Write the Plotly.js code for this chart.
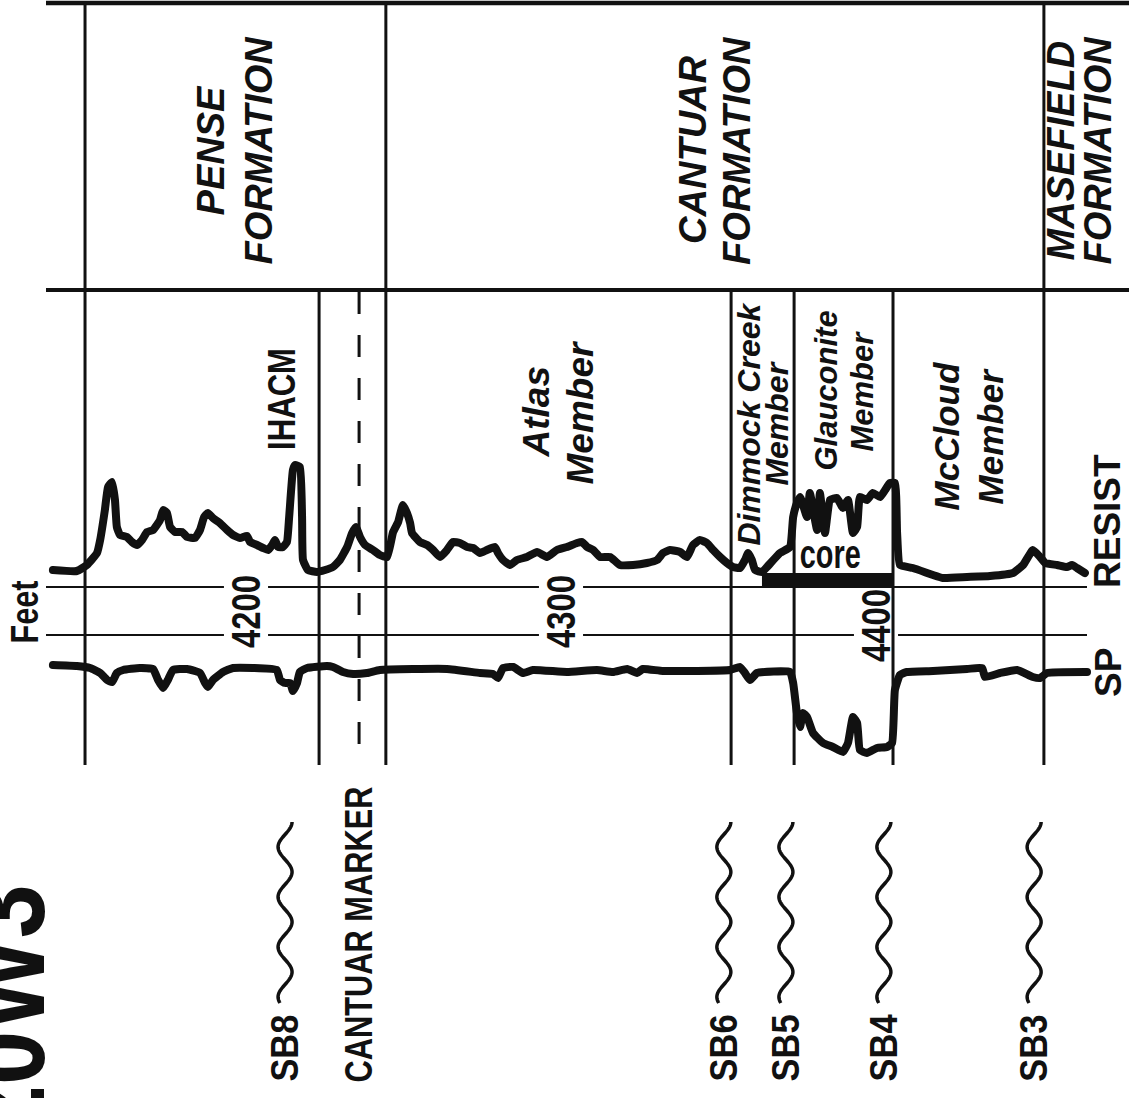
<!DOCTYPE html>
<html>
<head>
<meta charset="utf-8">
<script src="https://cdn.plot.ly/plotly-3.0.1.min.js"></script>
<style>html,body{margin:0;padding:0;background:#fff;}#chart{width:1129px;height:1098px;}</style>
</head>
<body>
<div id="chart"></div>
<script>
// ---------------- DATA ----------------
const depthTicks = [4200, 4300, 4400];                 // feet
const formationNames = ['PENSE', 'CANTUAR', 'MASEFIELD'];
const formationTops = [4148.9, 4244.4, 4453.3];
const memberNames = ['Atlas', 'Dimmock Creek', 'Glauconite', 'McCloud'];
const memberTops = [4244.4, 4354.0, 4374.0, 4405.4];
const memberBase = 4453.3;
const ihacmLabel = 'IHACM';
const ihacmBase = 4223.2;
const cantuarMarkerDepth = 4235.9;
const sbNames = ['SB8', 'SB6', 'SB5', 'SB4', 'SB3'];
const sbDepths = [4212.4, 4351.7, 4371.4, 4402.5, 4450.2];
const coreInterval = [4363.8, 4405.4];

// resistivity log: relative deflection
const resistDepth = [4138.7,4146.3,4149.5,4152.7,4153.7,4155.2,4156.2,4157.5,4158.4,4159.0,4160.0,4162.2,4163.8,4165.4,4167.0,4168.6,4170.5,4172.7,4173.7,4174.9,4175.9,4177.5,4179.7,4181.3,4183.8,4185.4,4186.7,4187.9,4189.5,4191.7,4194.0,4195.9,4198.1,4200.3,4201.3,4203.5,4205.4,4207.0,4208.3,4209.2,4210.2,4211.7,4213.0,4213.7,4214.9,4215.6,4217.1,4217.8,4218.1,4219.7,4222.5,4225.1,4227.6,4229.8,4232.1,4233.7,4234.9,4236.2,4237.8,4240.3,4242.5,4244.8,4246.7,4248.3,4249.8,4251.1,4252.1,4252.7,4255.2,4257.5,4259.4,4261.6,4263.8,4265.7,4267.9,4270.2,4272.1,4274.3,4276.5,4279.0,4280.0,4281.6,4283.8,4286.0,4289.2,4292.4,4295.6,4298.7,4301.9,4305.1,4306.7,4308.3,4310.2,4312.4,4315.6,4318.7,4322.9,4327.3,4330.5,4332.4,4334.6,4337.8,4340.0,4341.9,4344.1,4346.3,4348.3,4350.5,4352.7,4354.6,4356.8,4358.4,4359.4,4360.6,4361.6,4363.8,4365.4,4369.5,4372.7,4373.7,4374.9,4375.9,4378.1,4379.0,4381.3,4382.2,4383.8,4385.4,4387.6,4389.5,4391.1,4392.7,4394.0,4394.9,4397.1,4399.0,4401.3,4402.9,4404.4,4406.0,4406.7,4407.6,4411.7,4418.1,4421.3,4428.9,4436.2,4443.5,4446.7,4449.8,4452.1,4453.7,4457.5,4460.6,4462.2,4463.8,4466.3];
const resistValue = [30,29,35,47,60,90,113,118,100,73,65,63,58,55,60,68,70,80,90,87,73,68,68,63,62,70,83,87,82,77,70,65,62,64,58,55,52,50,55,60,53,53,58,83,130,135,133,83,40,30,28,30,33,40,53,67,73,63,55,50,45,43,68,78,95,87,77,67,58,55,50,43,50,58,57,53,52,47,50,53,47,40,35,40,43,48,43,50,53,57,58,53,50,43,43,35,35,37,40,47,50,48,43,55,60,57,50,43,37,33,32,40,47,40,30,28,33,47,53,83,97,103,83,107,70,107,67,100,102,92,100,67,73,103,100,107,103,110,117,117,67,35,32,25,22,23,24,27,35,50,43,37,35,33,35,32,27];

// SP log: relative deflection (negative = to the right of shale line)
const spDepth = [4138.7,4146.3,4150.5,4153.7,4155.9,4157.5,4159.0,4161.0,4166.3,4170.5,4172.1,4173.7,4175.2,4176.8,4181.3,4185.4,4187.0,4187.9,4189.5,4192.7,4195.9,4202.2,4209.8,4210.8,4212.4,4214.0,4214.9,4216.2,4217.1,4219.4,4225.7,4227.6,4230.8,4234.0,4238.4,4242.5,4263.8,4274.3,4278.4,4280.0,4281.6,4284.8,4287.9,4291.1,4301.9,4311.4,4316.5,4321.0,4324.1,4326.0,4332.4,4353.7,4356.8,4358.4,4360.0,4362.2,4372.7,4373.7,4374.9,4375.9,4376.8,4378.1,4380.0,4383.2,4386.3,4389.5,4391.1,4392.7,4394.0,4394.9,4397.1,4400.3,4403.5,4405.1,4406.0,4407.6,4409.8,4418.1,4428.9,4433.7,4434.6,4439.4,4444.8,4449.8,4452.1,4454.3,4467.0];
const spValue = [5,4,2,-3,-10,-12,-3,0,2,1,-10,-18,-10,0,1,-3,-13,-17,-10,-2,2,2,0,-10,-13,-13,-21,-13,-2,2,4,3,-2,-4,-3,0,1,-3,-4,-8,2,3,-3,0,-2,0,-2,1,-3,1,-1,0,3,-3,-10,-3,-2,-13,-43,-57,-43,-47,-63,-73,-77,-82,-73,-47,-53,-80,-83,-78,-77,-73,-20,-5,-2,-1,1,2,-7,-3,0,-7,-8,-3,-2];

// ---------------- LAYOUT HELPERS ----------------
const W = 1129, H = 1098;
const PX_PER_FT = 3.15, REF_PX = 561, REF_FT = 4300;
const xRange = [REF_FT - REF_PX / PX_PER_FT, REF_FT + (W - REF_PX) / PX_PER_FT];

const SANS = '"Liberation Sans", Arial, Helvetica, sans-serif';

const shapes = [];
const ann = [];
const squeeze = [];   // condensed-type labels: [annotation index, target length px]
function vline(x, y0, y1, w, dash) {
  shapes.push({type: 'line', xref: 'x', yref: 'y', x0: x, x1: x, y0: y0, y1: y1,
    line: {color: '#111', width: w, dash: dash || 'solid'}});
}
function hline(x0, x1, y, w) {
  shapes.push({type: 'line', xref: 'x', yref: 'y', x0: x0, x1: x1, y0: y, y1: y,
    line: {color: '#111', width: w}});
}
function label(text, x, y, size, opts) {
  opts = opts || {};
  if (opts.len) squeeze.push([ann.length, opts.len]);
  ann.push({text: text, x: x, y: y, xref: opts.xref || 'x', yref: 'y', showarrow: false,
    textangle: opts.angle === undefined ? -90 : opts.angle, xanchor: 'center', yanchor: 'middle',
    xshift: opts.xshift || 0,
    font: {family: SANS, size: size, color: '#111',
      weight: 'bold', style: opts.italic ? 'italic' : 'normal'}});
}

// frame
const leftEdge = xRange[0] + 46 / PX_PER_FT;
hline(leftEdge, xRange[1] + 5, 3, 4.5);
hline(leftEdge, xRange[1] + 5, 290, 4);
formationTops.forEach(d => vline(d, 3, 765, 3));
[ihacmBase].concat(memberTops.slice(1)).forEach(d => vline(d, 290, 765, 3));
vline(cantuarMarkerDepth, 292, 765, 3, '22px,21px');

// depth scale lines with gaps for labels
const feetLineRight = xRange[0] + 1087 / PX_PER_FT;
const tickLabelY = [612, 612, 626];
[587, 635].forEach(yl => {
  let start = leftEdge;
  depthTicks.forEach((t, i) => {
    if (Math.abs(tickLabelY[i] - yl) < 34) {
      hline(start, t - 7, yl, 2.2);
      start = t + 7;
    }
  });
  hline(start, feetLineRight, yl, 2.2);
});
depthTicks.forEach((t, i) => label(String(t), t, tickLabelY[i], 40, {len: 73}));

// core bar
shapes.push({type: 'rect', xref: 'x', yref: 'y', x0: coreInterval[0], x1: coreInterval[1], y0: 573, y1: 587,
  fillcolor: '#111', line: {width: 0}});
label('core', (coreInterval[0] + coreInterval[1]) / 2 + 1, 554, 40, {angle: 0, len: 61});

// formation labels
const fEdges = formationTops.concat([xRange[1] - 13 / PX_PER_FT]);
const fSpacing = [24, 22, 18.5];
formationNames.forEach((n, i) => {
  const c = (fEdges[i] + fEdges[i + 1]) / 2;
  label(n, c, 150, 38, {italic: true, xshift: -fSpacing[i]});
  label('FORMATION', c, 150, 38, {italic: true, xshift: fSpacing[i]});
});

// member labels
const mEdges = memberTops.concat([memberBase]);
const mY = [412, 424, 391, 436];
const mSize = [37, 32, 31, 35];
const mSp = [22, 14, 18, 22];
memberNames.forEach((n, i) => {
  const c = (mEdges[i] + mEdges[i + 1]) / 2;
  label(n, c, mY[i], mSize[i], {italic: true, xshift: -mSp[i]});
  label('Member', c, mY[i], mSize[i], {italic: true, xshift: mSp[i]});
});
label(ihacmLabel, ihacmBase - 11.7, 399, 38, {len: 102});

// sequence boundaries
sbDepths.forEach((d, i) => {
  let p = 'M 7,0';
  for (let t = 1; t <= 181; t++) {
    p += ' L ' + (7 * Math.cos(Math.PI * t / 25)).toFixed(2) + ',' + (-t);
  }
  shapes.push({type: 'path', xref: 'x', yref: 'y', xsizemode: 'pixel', ysizemode: 'pixel',
    xanchor: d, yanchor: 822, path: p, line: {color: '#111', width: 3.5}});
  label(sbNames[i], d, 1048, 38, {len: 67});
});
label('CANTUAR MARKER', cantuarMarkerDepth, 935, 38, {len: 296});

// outside texts
label('Feet', 25 / W, 612, 38, {xref: 'paper', len: 63});
label('RESIST', 1107 / W, 521, 37, {xref: 'paper'});
label('SP', 1108 / W, 673, 37, {xref: 'paper'});
label('20W3', 4 / W, 1012, 115, {xref: 'paper', len: 255});

// ---------------- TRACES ----------------
const traces = [
  {x: resistDepth, y: resistValue, type: 'scatter', mode: 'lines', yaxis: 'y2',
   line: {color: '#111', width: 8, shape: 'spline', smoothing: 0.4}, hoverinfo: 'skip', name: 'RESIST'},
  {x: spDepth, y: spValue, type: 'scatter', mode: 'lines', yaxis: 'y3',
   line: {color: '#111', width: 8, shape: 'spline', smoothing: 0.4}, hoverinfo: 'skip', name: 'SP'}
];

const hidden = {visible: false, showgrid: false, zeroline: false, fixedrange: true};
const layout = {
  width: W, height: H,
  margin: {l: 0, r: 0, t: 0, b: 0, pad: 0},
  paper_bgcolor: '#fff', plot_bgcolor: '#fff',
  showlegend: false, hovermode: false,
  xaxis: Object.assign({range: xRange, domain: [0, 1]}, hidden),
  yaxis: Object.assign({range: [H, 0], domain: [0, 1]}, hidden),
  yaxis2: Object.assign({range: [600 - H, 600], overlaying: 'y'}, hidden),
  yaxis3: Object.assign({range: [670 - H, 670], overlaying: 'y'}, hidden),
  shapes: shapes,
  annotations: ann
};
Plotly.newPlot('chart', traces, layout, {staticPlot: true, displayModeBar: false}).then(gd => {
  // condensed lettering: compress the glyphs to the lettering width of the original
  squeeze.forEach(([i, len]) => {
    const t = gd.querySelector('.annotation[data-index="' + i + '"] text.annotation-text');
    if (!t) return;
    if (t.getComputedTextLength() > len) {
      t.setAttribute('textLength', len);
      t.setAttribute('lengthAdjust', 'spacingAndGlyphs');
    }
  });
  gd.querySelectorAll('.scatterlayer path.js-line').forEach(p => {
    p.style.strokeLinejoin = 'round';
    p.style.strokeLinecap = 'round';
  });
});
</script>
</body>
</html>
